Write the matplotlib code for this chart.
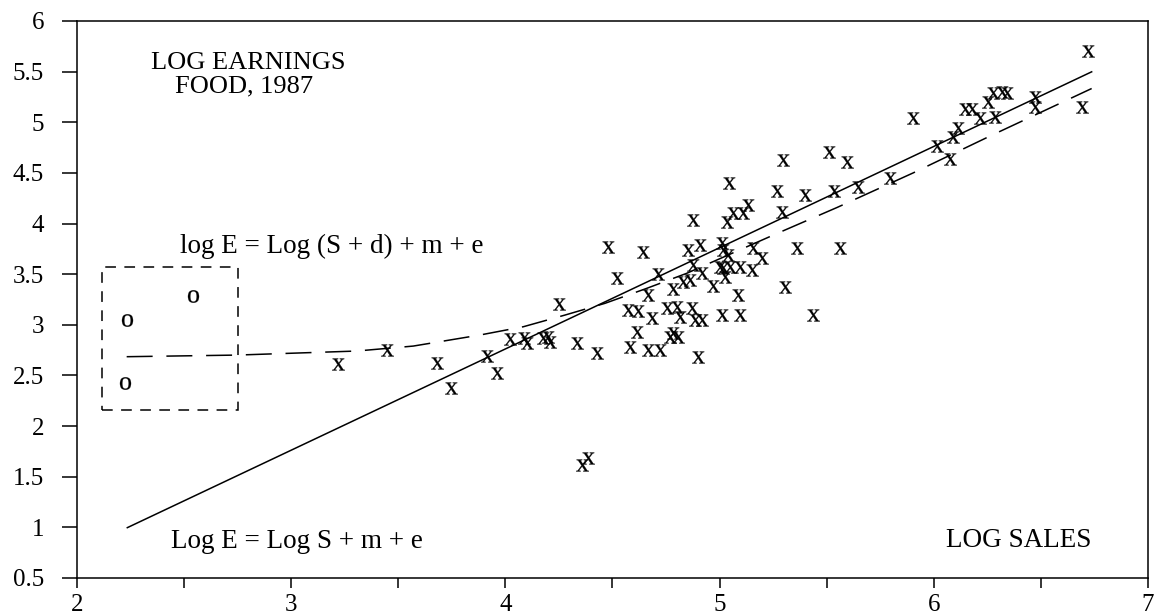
import numpy as np
import matplotlib
matplotlib.use("Agg")
import matplotlib.pyplot as plt
from matplotlib.patches import Rectangle

plt.rcParams["font.family"] = ["Liberation Serif", "DejaVu Serif"]
plt.rcParams["mathtext.fontset"] = "custom"
plt.rcParams["mathtext.rm"] = "Liberation Serif"

# food firms, 1987: log sales vs log earnings
log_sales = [
    3.220, 3.446, 3.679, 3.744, 3.913, 3.959, 4.021, 4.087, 4.102, 4.177,
    4.200, 4.208, 4.249, 4.333, 4.426, 4.356, 4.387, 4.480, 4.522, 4.574,
    4.620, 4.582, 4.613, 4.644, 4.667, 4.683, 4.667, 4.722, 4.714, 4.753,
    4.800, 4.768, 4.784, 4.807, 4.784, 4.815, 4.831, 4.862, 4.870, 4.877,
    4.854, 4.909, 4.885, 4.916, 4.901, 4.877, 4.916, 4.971, 5.010, 5.017,
    5.002, 5.017, 5.025, 5.033, 5.064, 5.111, 5.134, 5.041, 5.049, 5.010,
    5.095, 5.087, 5.095, 5.150, 5.197, 5.157, 5.290, 5.305, 5.360, 6.721,
    6.690, 6.472, 6.472, 6.278, 6.317, 6.340, 6.254, 6.146, 6.177, 6.216,
    6.286, 6.114, 6.091, 6.014, 6.076, 5.901, 5.796, 5.648, 5.297, 5.511,
    5.593, 5.267, 5.399, 5.534, 5.562, 5.437, 5.044,
]
log_earnings = [
    2.613, 2.751, 2.619, 2.373, 2.692, 2.521, 2.856, 2.866, 2.823, 2.866,
    2.882, 2.833, 3.205, 2.823, 2.718, 1.615, 1.682, 3.771, 3.465, 3.146,
    3.139, 2.783, 2.931, 3.721, 3.294, 3.064, 2.751, 2.751, 3.501, 3.162,
    3.178, 2.882, 2.916, 2.882, 3.350, 3.080, 3.425, 3.442, 3.162, 4.034,
    3.738, 3.787, 3.047, 3.047, 2.685, 3.590, 3.508, 3.383, 3.804, 3.738,
    3.573, 3.557, 3.474, 4.017, 4.100, 4.100, 4.182, 3.689, 3.573, 3.096,
    3.096, 3.294, 3.573, 3.540, 3.656, 3.755, 4.116, 3.376, 3.755, 5.705,
    5.147, 5.251, 5.153, 5.291, 5.301, 5.291, 5.202, 5.127, 5.127, 5.038,
    5.054, 4.939, 4.856, 4.765, 4.633, 5.044, 4.446, 4.363, 4.626, 4.708,
    4.610, 4.323, 4.281, 4.323, 3.761, 3.096, 4.399,
]

# small firms shown as "o"
small_sales = [2.232, 2.543, 2.224]
small_earnings = [3.047, 3.284, 2.428]

# fitted lines
prop_x = [2.235, 6.737]          # Log E = Log S + m
prop_y = [0.997, 5.498]
shift_x = [2.232, 2.746, 3.306, 3.570, 3.881, 4.084, 4.278, 4.465, 4.660,
           4.846, 5.251, 5.549, 5.905, 6.262, 6.737]   # Log E = Log(S + d) + m
shift_y = [2.685, 2.701, 2.741, 2.790, 2.899, 2.981, 3.096, 3.212, 3.360,
           3.508, 3.886, 4.159, 4.501, 4.863, 5.333]

box_x = (2.115, 2.753)
box_y = (2.158, 3.573)

fig = plt.figure(figsize=(11.54, 6.13), dpi=100)
ax = fig.add_axes([0.0667, 0.0571, 0.9281, 0.9087])

ax.plot(prop_x, prop_y, color="black", lw=1.1)
ax.plot(shift_x, shift_y, color="black", lw=1.1, linestyle=(0, (17, 9)))
ax.plot(log_sales, log_earnings, linestyle="none", marker=r"$\mathrm{x}$",
        ms=9, color="black", mew=0.2)
ax.plot(small_sales, small_earnings, linestyle="none", marker=r"$\mathrm{o}$",
        ms=9, color="black", mew=0.2)
ax.add_patch(Rectangle((box_x[0], box_y[0]), box_x[1] - box_x[0], box_y[1] - box_y[0],
                       fill=False, ec="black", lw=1.1, linestyle=(0, (7, 5.5))))

ax.text(2.798, 5.53, "LOG EARNINGS", fontsize=19, ha="center", va="baseline")
ax.text(2.78, 5.29, "FOOD, 1987", fontsize=19, ha="center", va="baseline")
ax.text(2.481, 3.705, "log E = Log (S + d) + m + e", fontsize=19.5, va="baseline")
ax.text(2.439, 0.80, "Log E = Log S + m + e", fontsize=19.5, va="baseline")
ax.text(6.055, 0.806, "LOG SALES", fontsize=19.5, va="baseline")

ax.set_xlim(2, 7)
ax.set_ylim(0.5, 6)
ax.set_xticks(np.arange(2, 7.01, 1))
ax.set_xticks(np.arange(2.5, 7, 1), minor=True)
ax.set_yticks(np.arange(0.5, 6.01, 0.5))
ax.set_yticklabels([f"{v:g}" for v in np.arange(0.5, 6.01, 0.5)])
ax.tick_params(axis="x", which="both", direction="out", length=7.2, width=1.1,
               labelsize=18, pad=4)
ax.tick_params(axis="y", direction="out", length=10.8, width=1.1,
               labelsize=18, pad=13)
for s in ax.spines.values():
    s.set_linewidth(1.1)

fig.savefig("out.png", dpi=100)
